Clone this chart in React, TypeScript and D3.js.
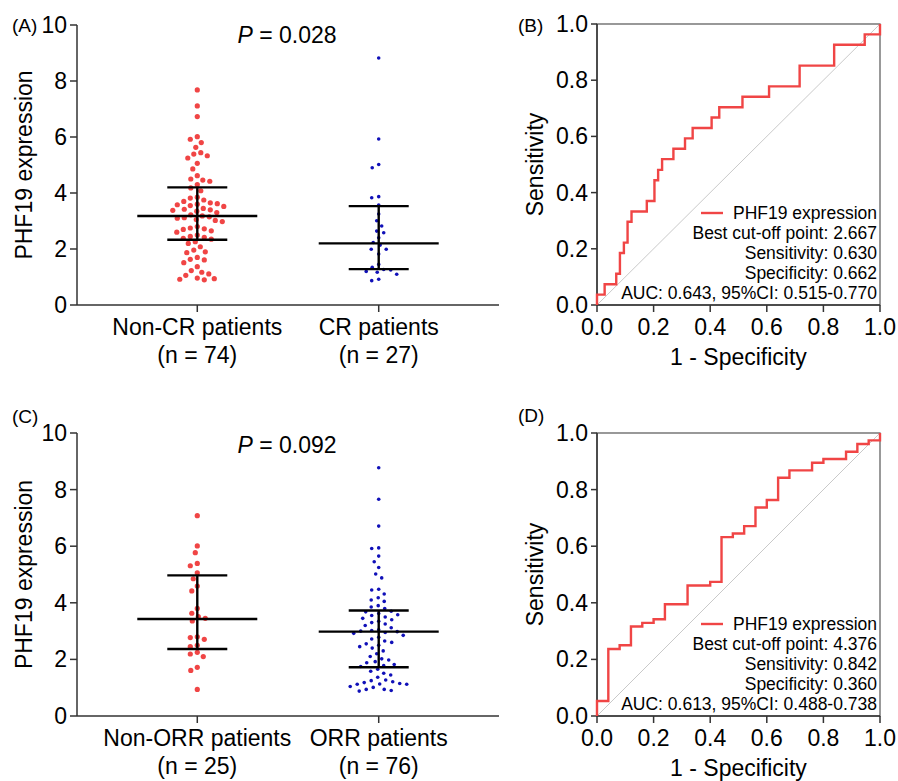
import React from 'react';
import * as d3 from 'd3';

// dot plot values
const nonCR = [7.68, 7.11, 6.73, 6.01, 5.92, 5.8, 5.63, 5.44, 5.39, 5.33, 5.25, 5.06, 4.86, 4.62, 4.5, 4.46, 4.42, 4.3,
  4.18, 4.08, 3.85, 3.82, 3.75, 3.7, 3.65, 3.62, 3.6, 3.58, 3.55, 3.52, 3.45, 3.42, 3.4, 3.38, 3.35, 3.3, 3.22, 3.18,
  3.15, 3.12, 3.1, 3.05, 3.02, 2.98, 2.8, 2.75, 2.72, 2.7, 2.65, 2.6, 2.5, 2.45, 2.42, 2.38, 2.35,
  2.26, 2.2, 2.08, 1.96, 1.9, 1.87, 1.7, 1.63, 1.61, 1.51, 1.37, 1.23, 1.17, 1.11, 1.06, 0.96, 0.94, 0.92, 0.9];
const cr = [8.82, 5.93, 5.02, 4.9, 3.87, 3.83, 3.57, 3.25, 3.01, 2.82, 2.64, 2.58, 2.4, 2.23, 2.14, 1.99, 1.99, 1.82,
  1.45, 1.35, 1.27, 1.25, 1.2, 1.17, 1.1, 0.92, 0.87];
const nonORR = [7.08, 6.01, 5.77, 5.39, 5.31, 5.06, 4.85, 4.59, 4.42, 3.8, 3.63, 3.51, 3.45, 3.36, 2.8, 2.77, 2.71,
  2.5, 2.45, 2.25, 2.19, 2.1, 1.72, 1.61, 0.94];
const orr = [8.77, 7.66, 6.71, 5.94, 5.92, 5.65, 5.45, 5.25, 5.02, 4.88, 4.48, 4.45, 4.31, 4.18, 4.1, 4.05, 3.9, 3.85, 3.8,
  3.7, 3.68, 3.62, 3.58, 3.55, 3.5, 3.45, 3.4, 3.35, 3.3, 3.25, 3.2, 3.12, 3.05, 3.02, 3.0, 2.98, 2.95, 2.92, 2.85,
  2.78, 2.72, 2.65, 2.6, 2.55, 2.5, 2.45, 2.4, 2.3, 2.2, 2.1, 2.02, 1.98, 1.92, 1.88, 1.82, 1.78, 1.75,
  1.65, 1.58, 1.51, 1.45, 1.37, 1.27, 1.25, 1.21, 1.18, 1.15, 1.13, 1.12, 1.12, 1.04, 1.01, 0.94, 0.94, 0.9, 0.88];

const crGroups = ['Non-CR patients', 'CR patients'];
const crCounts = ['(n = 74)', '(n = 27)'];
const crMedian = [3.18, 2.2];
const crQ1 = [2.33, 1.28];
const crQ3 = [4.2, 3.53];

const orrGroups = ['Non-ORR patients', 'ORR patients'];
const orrCounts = ['(n = 25)', '(n = 76)'];
const orrMedian = [3.43, 2.98];
const orrQ1 = [2.37, 1.72];
const orrQ3 = [4.97, 3.73];

const dotTicks = [0, 2, 4, 6, 8, 10];
const rocTicks = [0, 0.2, 0.4, 0.6, 0.8, 1.0];

// ROC corners (1 - specificity, sensitivity)
const rocB_fpr = [0, 0, 0.027, 0.068, 0.081, 0.095, 0.108, 0.122, 0.176, 0.203, 0.216, 0.23, 0.27, 0.311, 0.338, 0.405,
  0.432, 0.514, 0.608, 0.716, 0.838, 0.946, 1.0];
const rocB_tpr = [0, 0.037, 0.074, 0.111, 0.185, 0.222, 0.296, 0.333, 0.37, 0.444, 0.481, 0.519, 0.556, 0.593, 0.63, 0.667,
  0.704, 0.741, 0.778, 0.852, 0.926, 0.963, 1.0];
const rocD_fpr = [0, 0, 0.04, 0.08, 0.12, 0.16, 0.2, 0.24, 0.32, 0.4, 0.44, 0.48, 0.52, 0.56, 0.6, 0.64, 0.68, 0.76, 0.8,
  0.88, 0.92, 0.96, 1.0];
const rocD_tpr = [0, 0.053, 0.237, 0.25, 0.316, 0.329, 0.342, 0.395, 0.461, 0.474, 0.632, 0.645, 0.671, 0.737, 0.763, 0.842,
  0.868, 0.895, 0.908, 0.934, 0.961, 0.974, 1.0];

const legendB = ['PHF19 expression', 'Best cut-off point: 2.667', 'Sensitivity: 0.630', 'Specificity: 0.662',
  'AUC: 0.643, 95%CI: 0.515-0.770'];
const legendD = ['PHF19 expression', 'Best cut-off point: 4.376', 'Sensitivity: 0.842', 'Specificity: 0.360',
  'AUC: 0.613, 95%CI: 0.488-0.738'];

const FONT = '"Liberation Sans", Arial, sans-serif';
const RED = '#f04545';
const BLUE = '#1010b8';
const AXIS = '#333';
const FS = 23;

function swarm(values: number[], y: (v: number) => number, d: number) {
  const placed: { x: number; y: number }[] = [];
  const ys = values.map(v => y(v)).sort((a, b) => a - b);
  ys.forEach(py => {
    let best = 0;
    for (let k = 0; k < 400; k++) {
      const off = (k % 2 === 0 ? 1 : -1) * Math.ceil(k / 2) * 0.5;
      const ok = placed.every(p => (p.x - off) ** 2 + (p.y - py) ** 2 >= d * d);
      if (ok) { best = off; break; }
    }
    placed.push({ x: best, y: py });
  });
  return placed;
}

function DotPanel(props: any) {
  const { top, bottom, groups, counts, sets, colors, radii, med, q1, q3, label, pText, labelY, pY, catY } = props;
  const x = d3.scalePoint().domain(groups).range([77, 499]).padding(0.663);
  const y = d3.scaleLinear().domain([0, 10]).range([bottom, top]);
  const midY = (top + bottom) / 2;
  return (
    <g fontFamily={FONT}>
      <text x={12} y={labelY} fontSize={19}>{label}</text>
      <text x={287} y={pY} fontSize={FS} textAnchor="middle"><tspan fontStyle="italic">P</tspan> = {pText}</text>
      <text transform={`translate(32,${midY}) rotate(-90)`} fontSize={FS} textAnchor="middle">PHF19 expression</text>
      <line x1={77} x2={77} y1={top} y2={bottom} stroke={AXIS} strokeWidth={1.5} />
      <line x1={77} x2={499} y1={bottom} y2={bottom} stroke={AXIS} strokeWidth={1.5} />
      {dotTicks.map(t => (
        <g key={t}>
          <line x1={70} x2={77} y1={y(t)} y2={y(t)} stroke={AXIS} strokeWidth={1.5} />
          <text x={67} y={y(t) + 8} fontSize={FS} textAnchor="end">{t}</text>
        </g>
      ))}
      {groups.map((g: string, i: number) => {
        const cx = x(g) as number;
        const pts = swarm(sets[i], y, 7);
        return (
          <g key={g}>
            <line x1={cx} x2={cx} y1={bottom} y2={bottom + 7} stroke={AXIS} strokeWidth={1.5} />
            <text x={cx} y={catY} fontSize={FS} textAnchor="middle">{g}</text>
            <text x={cx} y={catY + 28} fontSize={FS} textAnchor="middle">{counts[i]}</text>
            {pts.map((p, j) => (
              <circle key={j} cx={cx + p.x} cy={p.y} r={radii[i]} fill={colors[i]} />
            ))}
            <line x1={cx} x2={cx} y1={y(q1[i])} y2={y(q3[i])} stroke="#000" strokeWidth={2.4} />
            <line x1={cx - 30} x2={cx + 30} y1={y(q1[i])} y2={y(q1[i])} stroke="#000" strokeWidth={2.4} />
            <line x1={cx - 30} x2={cx + 30} y1={y(q3[i])} y2={y(q3[i])} stroke="#000" strokeWidth={2.4} />
            <line x1={cx - 60} x2={cx + 60} y1={y(med[i])} y2={y(med[i])} stroke="#000" strokeWidth={2.4} />
          </g>
        );
      })}
    </g>
  );
}

function RocPanel(props: any) {
  const { top, bottom, fpr, tpr, legend, label, labelY } = props;
  const left = 597, right = 880;
  const x = d3.scaleLinear().domain([0, 1]).range([left, right]);
  const y = d3.scaleLinear().domain([0, 1]).range([bottom, top]);
  const fmt = d3.format('.1f');
  const pts: [number, number][] = fpr.map((f: number, i: number) => [f, tpr[i]]);
  const path = d3.line<[number, number]>().x(d => x(d[0])).y(d => y(d[1])).curve(d3.curveStepAfter)(pts) || '';
  return (
    <g fontFamily={FONT}>
      <text x={518} y={labelY} fontSize={19}>{label}</text>
      <text transform={`translate(543,${(top + bottom) / 2}) rotate(-90)`} fontSize={FS} textAnchor="middle">Sensitivity</text>
      <text x={(left + right) / 2} y={bottom + 60} fontSize={FS} textAnchor="middle">1 - Specificity</text>
      <line x1={x(0)} y1={y(0)} x2={x(1)} y2={y(1)} stroke="#bbb" strokeWidth={0.8} />
      <rect x={left} y={top} width={right - left} height={bottom - top} fill="none" stroke="#555" strokeWidth={1.2} />
      <line x1={left} x2={left} y1={top} y2={bottom} stroke={AXIS} strokeWidth={1.5} />
      <line x1={left} x2={right} y1={bottom} y2={bottom} stroke={AXIS} strokeWidth={1.5} />
      {rocTicks.map(t => (
        <g key={t}>
          <line x1={left - 6} x2={left} y1={y(t)} y2={y(t)} stroke={AXIS} strokeWidth={1.5} />
          <text x={left - 9} y={y(t) + 8} fontSize={FS} textAnchor="end">{fmt(t)}</text>
          <line x1={x(t)} x2={x(t)} y1={bottom} y2={bottom + 7} stroke={AXIS} strokeWidth={1.5} />
          <text x={x(t)} y={bottom + 30} fontSize={FS} textAnchor="middle">{fmt(t)}</text>
        </g>
      ))}
      <path d={path} fill="none" stroke={RED} strokeWidth={2.4} />
      {legend.map((s: string, i: number) => (
        <text key={i} x={877} y={bottom - 6 - 20 * (legend.length - 1 - i)} fontSize={17.5} textAnchor="end">{s}</text>
      ))}
      <line x1={701} x2={723} y1={bottom - 92} y2={bottom - 92} stroke={RED} strokeWidth={2.4} />
    </g>
  );
}

export default function App() {
  return (
    <div style={{ position: 'absolute', left: 0, top: 0 }}>
      <svg width={898} height={781} style={{ display: 'block', background: '#fff' }}>
        <DotPanel top={25} bottom={305} groups={crGroups} counts={crCounts} sets={[nonCR, cr]} colors={[RED, BLUE]}
          radii={[2.6, 1.8]} med={crMedian} q1={crQ1} q3={crQ3} label="(A)" pText="0.028" labelY={32} pY={43} catY={335} />
        <DotPanel top={433} bottom={716} groups={orrGroups} counts={orrCounts} sets={[nonORR, orr]} colors={[RED, BLUE]}
          radii={[2.6, 1.8]} med={orrMedian} q1={orrQ1} q3={orrQ3} label="(C)" pText="0.092" labelY={423} pY={453} catY={746} />
        <RocPanel top={24} bottom={305} fpr={rocB_fpr} tpr={rocB_tpr} legend={legendB} label="(B)" labelY={32} />
        <RocPanel top={433} bottom={716} fpr={rocD_fpr} tpr={rocD_tpr} legend={legendD} label="(D)" labelY={422} />
      </svg>
    </div>
  );
}
